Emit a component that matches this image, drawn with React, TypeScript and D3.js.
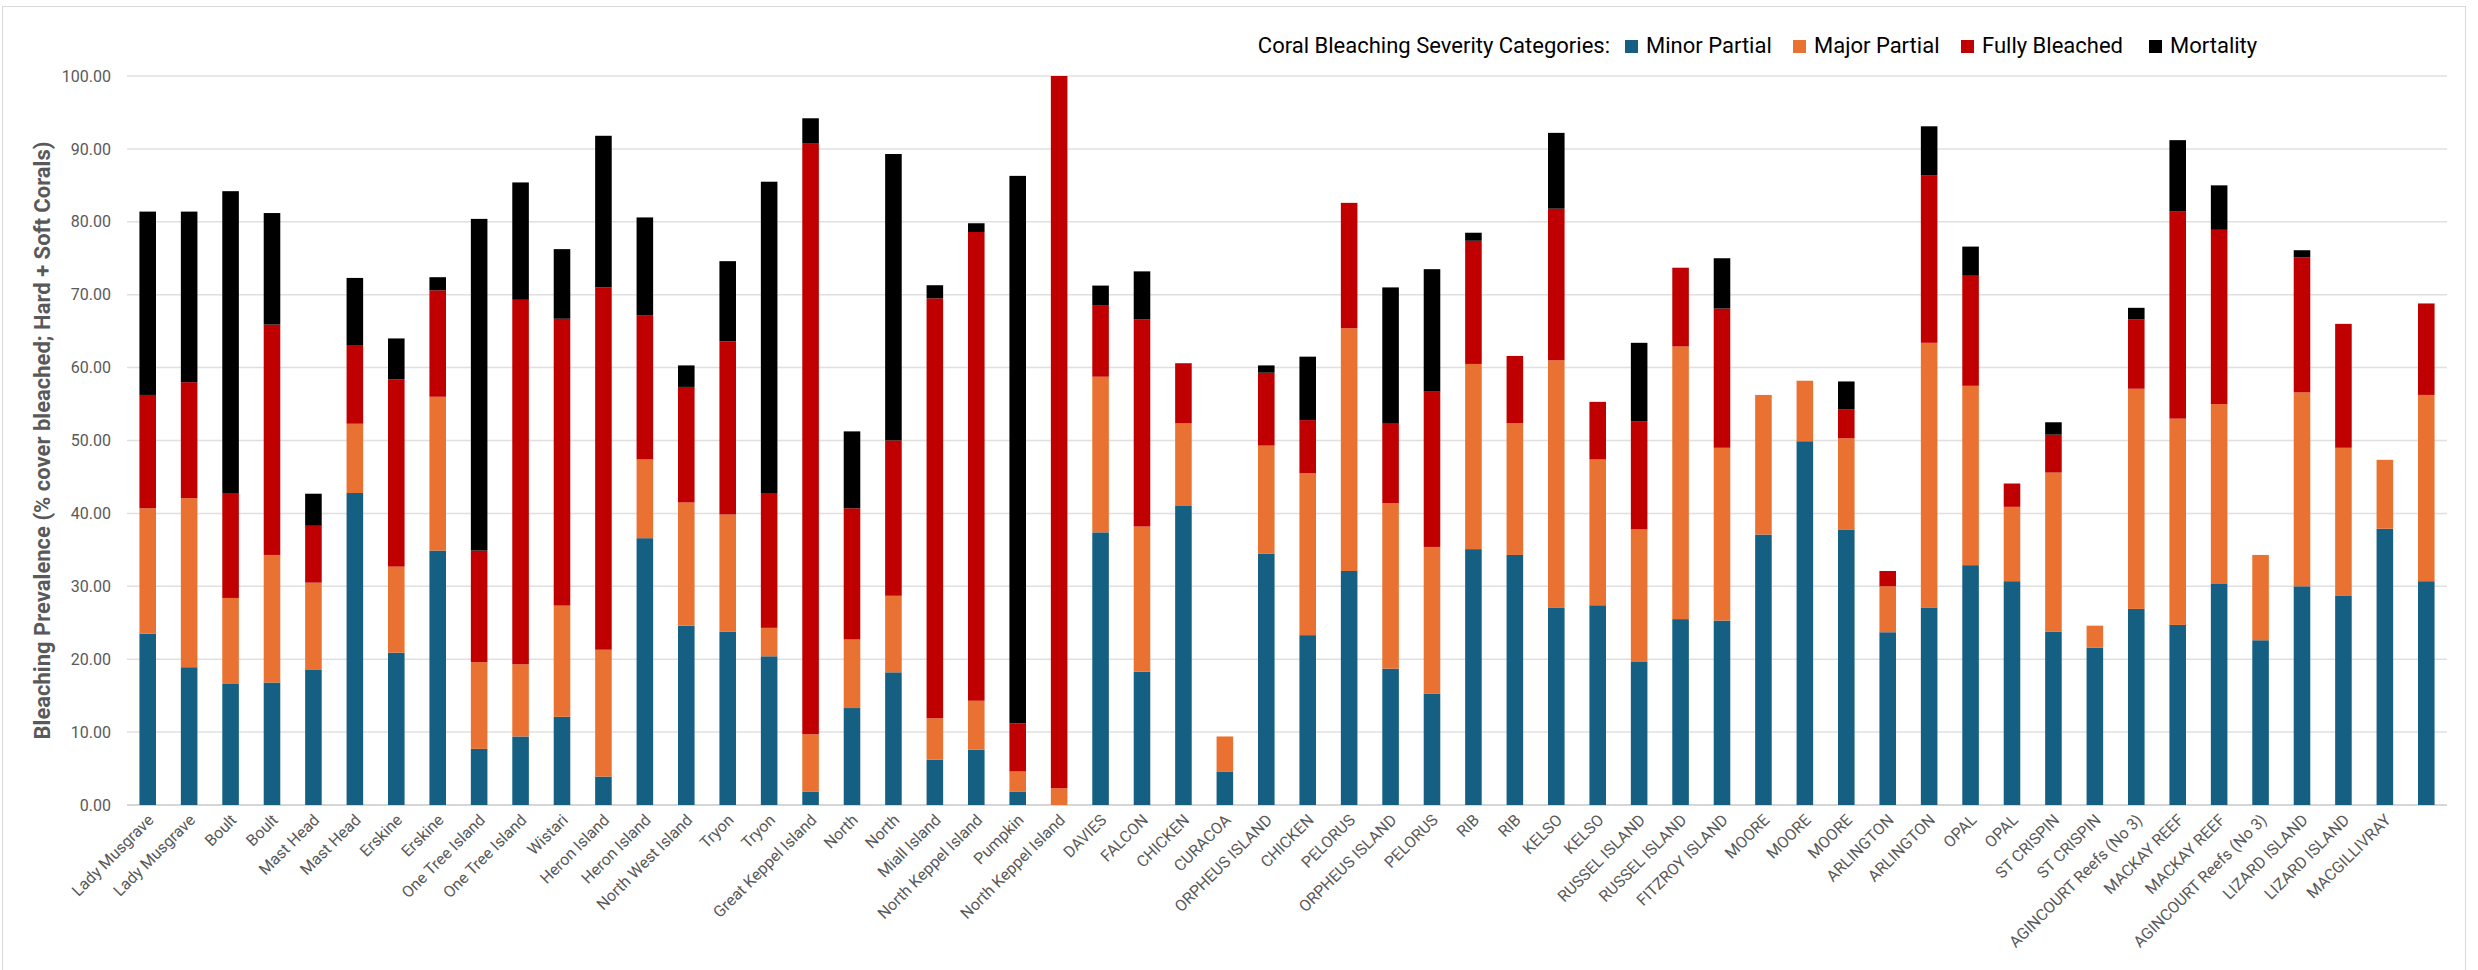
import React from "react";
import * as d3 from "d3";

// sites along the x axis (the last column has no label in the source)
const sites = [
  "Lady Musgrave", "Lady Musgrave", "Boult", "Boult", "Mast Head", "Mast Head",
  "Erskine", "Erskine", "One Tree Island", "One Tree Island", "Wistari",
  "Heron Island", "Heron Island", "North West Island", "Tryon", "Tryon",
  "Great Keppel Island", "North", "North", "Miall Island", "North Keppel Island",
  "Pumpkin", "North Keppel Island", "DAVIES", "FALCON", "CHICKEN", "CURACOA",
  "ORPHEUS ISLAND", "CHICKEN", "PELORUS", "ORPHEUS ISLAND", "PELORUS", "RIB", "RIB",
  "KELSO", "KELSO", "RUSSEL ISLAND", "RUSSEL ISLAND", "FITZROY ISLAND", "MOORE",
  "MOORE", "MOORE", "ARLINGTON", "ARLINGTON", "OPAL", "OPAL", "ST CRISPIN",
  "ST CRISPIN", "AGINCOURT Reefs (No 3)", "MACKAY REEF", "MACKAY REEF",
  "AGINCOURT Reefs (No 3)", "LIZARD ISLAND", "LIZARD ISLAND", "MACGILLIVRAY", "",
];

const minorPartial = [
  23.5, 18.9, 16.6, 16.8, 18.6, 42.8, 20.9, 34.9, 7.7, 9.4, 12.1, 3.9, 36.6, 24.6,
  23.8, 20.4, 1.8, 13.3, 18.2, 6.2, 7.6, 1.8, 0, 37.4, 18.3, 41.1, 4.6, 34.5, 23.3,
  32.1, 18.7, 15.3, 35.1, 34.3, 27.1, 27.4, 19.7, 25.5, 25.3, 37.1, 49.9, 37.8,
  23.7, 27.1, 32.9, 30.7, 23.8, 21.6, 26.9, 24.7, 30.4, 22.6, 30.0, 28.75, 37.9, 30.7,
];
const majorPartial = [
  17.2, 23.2, 11.8, 17.5, 11.9, 9.5, 11.8, 21.1, 11.9, 9.9, 15.25, 17.4, 10.8, 16.9,
  16.05, 3.9, 7.9, 9.4, 10.5, 5.7, 6.7, 2.8, 2.3, 21.35, 19.9, 11.25, 4.8, 14.8, 22.2,
  33.3, 22.7, 20.1, 25.4, 18.1, 33.9, 20.0, 18.1, 37.4, 23.7, 19.15, 8.3, 12.5,
  6.3, 36.3, 24.6, 10.2, 21.8, 3.0, 30.2, 28.3, 24.6, 11.7, 26.6, 20.25, 9.45, 25.55,
];
const fullyBleached = [
  15.55, 15.9, 14.4, 31.6, 7.8, 10.8, 25.7, 14.6, 15.3, 50.0, 39.35, 49.7, 19.8, 15.85,
  23.75, 18.5, 81.1, 18.0, 21.3, 57.6, 64.3, 6.6, 97.7, 9.75, 28.4, 8.25, 0, 10.0, 7.3,
  17.2, 10.9, 21.3, 16.9, 9.2, 20.8, 7.9, 14.8, 10.8, 19.1, 0, 0, 4.0,
  2.1, 23.0, 15.1, 3.2, 5.2, 0, 9.5, 28.4, 23.9, 0, 18.5, 17.0, 0, 12.55,
];
const mortality = [
  25.15, 23.4, 41.4, 15.3, 4.4, 9.2, 5.6, 1.8, 45.5, 16.1, 9.55, 20.8, 13.4, 2.95,
  11.0, 42.7, 3.4, 10.55, 39.3, 1.8, 1.2, 75.1, 0, 2.75, 6.6, 0, 0, 1.0, 8.7,
  0, 18.7, 16.8, 1.1, 0, 10.4, 0, 10.8, 0, 6.9, 0, 0, 3.8,
  0, 6.7, 4.0, 0, 1.7, 0, 1.6, 9.8, 6.1, 0, 1.0, 0, 0, 0,
];

const seriesNames = ["Minor Partial", "Major Partial", "Fully Bleached", "Mortality"];
const seriesColors = ["#156082", "#E97132", "#C00000", "#000000"];
const yTicks = [0, 10, 20, 30, 40, 50, 60, 70, 80, 90, 100];

const W = 2478;
const H = 970;
const plot = { left: 127, right: 2447, top: 76, bottom: 805 };
const FONT = "Roboto, 'Liberation Sans', sans-serif";

export default function App() {
  const rows = sites.map((s, i) => ({
    i: String(i),
    "Minor Partial": minorPartial[i],
    "Major Partial": majorPartial[i],
    "Fully Bleached": fullyBleached[i],
    Mortality: mortality[i],
  }));
  const stacked = d3.stack<any>().keys(seriesNames)(rows);

  const x = d3
    .scaleBand()
    .domain(rows.map((r) => r.i))
    .range([plot.left, plot.right])
    .paddingInner(0.6)
    .paddingOuter(0.3);
  const y = d3.scaleLinear().domain([0, 100]).range([plot.bottom, plot.top]);
  const fmt = d3.format(".2f");

  // legend layout
  const legendY = 53;
  const legendItems = [1625, 1793, 1961, 2149];

  return (
    <svg
      width={W}
      height={H}
      style={{ position: "absolute", left: 0, top: 0, background: "#fff" }}
      fontFamily={FONT}
    >
      <rect x={2.5} y={6.5} width={2463} height={H} fill="#fff" stroke="#d9d9d9" />

      {/* gridlines */}
      {yTicks.map((t) => (
        <line
          key={t}
          x1={plot.left}
          x2={plot.right}
          y1={y(t)}
          y2={y(t)}
          stroke={t === 0 ? "#c8c8c8" : "#e0e0e0"}
          strokeWidth={1.5}
        />
      ))}
      {yTicks.map((t) => (
        <text
          key={"l" + t}
          x={111}
          y={y(t)}
          dy="0.35em"
          textAnchor="end"
          fontSize={16}
          fill="#595959"
        >
          {fmt(t)}
        </text>
      ))}

      {/* stacked bars */}
      {stacked.map((layer, k) => (
        <g key={layer.key} fill={seriesColors[k]}>
          {layer.map((d, j) =>
            d[1] - d[0] > 0 ? (
              <rect
                key={j}
                x={x(String(j))}
                width={x.bandwidth()}
                y={y(d[1])}
                height={y(d[0]) - y(d[1])}
              />
            ) : null
          )}
        </g>
      ))}

      {/* category labels */}
      {sites.map((s, i) => {
        const cx = (x(String(i)) as number) + x.bandwidth() / 2;
        return (
          <text
            key={"c" + i}
            transform={`translate(${cx + 7},${plot.bottom + 16}) rotate(-45)`}
            textAnchor="end"
            fontSize={16}
            fill="#595959"
          >
            {s}
          </text>
        );
      })}

      {/* y title */}
      <text
        transform={`translate(50,${(plot.top + plot.bottom) / 2}) rotate(-90)`}
        textAnchor="middle"
        fontSize={22}
        fontWeight="bold"
        fill="#595959"
      >
        Bleaching Prevalence (% cover bleached; Hard + Soft Corals)
      </text>

      {/* legend */}
      <text x={1610} y={legendY} textAnchor="end" fontSize={22} fill="#000">
        Coral Bleaching Severity Categories:
      </text>
      {seriesNames.map((n, k) => (
        <g key={n}>
          <rect x={legendItems[k]} y={legendY - 13} width={13} height={13} fill={seriesColors[k]} />
          <text x={legendItems[k] + 21} y={legendY} fontSize={22} fill="#000">
            {n}
          </text>
        </g>
      ))}
    </svg>
  );
}
